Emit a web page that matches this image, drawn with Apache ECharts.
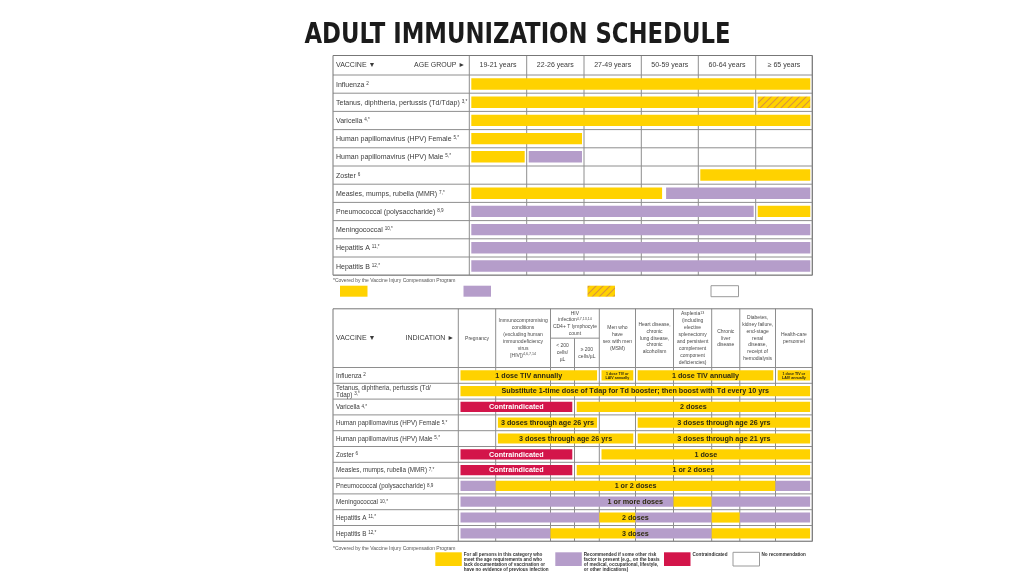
<!DOCTYPE html>
<html><head><meta charset="utf-8">
<script src="https://cdn.jsdelivr.net/npm/echarts@6/dist/echarts.min.js"></script>
<style>html,body{margin:0;padding:0;background:#fff}#c{width:1024px;height:576px}</style>
</head><body><div id="c"></div><script>
// ---------- DATA ----------
const chartTitle = 'ADULT IMMUNIZATION SCHEDULE';
const ageGroups = ['19-21 years', '22-26 years', '27-49 years', '50-59 years', '60-64 years', '≥ 65 years'];
const vaccines = ['Influenza', 'Tetanus, diphtheria, pertussis (Td/Tdap)', 'Varicella',
  'Human papillomavirus (HPV) Female', 'Human papillomavirus (HPV) Male', 'Zoster',
  'Measles, mumps, rubella (MMR)', 'Pneumococcal (polysaccharide)', 'Meningococcal',
  'Hepatitis A', 'Hepatitis B'];
const vaccineNotes = ['2', '3,*', '4,*', '5,*', '5,*', '6', '7,*', '8,9', '10,*', '11,*', '12,*'];
const indications = ['Pregnancy',
  'Immunocompromising\nconditions\n(excluding human\nimmunodeficiency\nvirus\n[HIV]){s|4,6,7,14}',
  'HIV\ninfection{s|4,7,13,14}\nCD4+ T lymphocyte\ncount',
  'Men who\nhave\nsex with men\n(MSM)',
  'Heart disease,\nchronic\nlung disease,\nchronic\nalcoholism',
  'Asplenia{s|13}\n(including\nelective\nsplenectomy\nand persistent\ncomplement\ncomponent\ndeficiencies)',
  'Chronic\nliver\ndisease',
  'Diabetes,\nkidney failure,\nend-stage\nrenal\ndisease,\nreceipt of\nhemodialysis',
  'Health-care\npersonnel'];
const indicationSpans = [1, 1, 2, 1, 1, 1, 1, 1, 1];
const hivSubgroups = ['< 200\ncells/\nµL', '≥ 200\ncells/µL'];
// [row, fromColumn, toColumn, kind]
const ageBars = [
  [0, 0, 6, 'all'],
  [1, 0, 5, 'all'], [1, 5, 6, 'hatch'],
  [2, 0, 6, 'all'],
  [3, 0, 2, 'all'],
  [4, 0, 1, 'all'], [4, 1, 2, 'risk'],
  [5, 4, 6, 'all'],
  [6, 0, 3.4, 'all'], [6, 3.4, 6, 'risk'],
  [7, 0, 5, 'risk'], [7, 5, 6, 'all'],
  [8, 0, 6, 'risk'],
  [9, 0, 6, 'risk'],
  [10, 0, 6, 'risk']
];
const indicationBars = [
  [0, 0, 4, 'all'], [0, 4, 5, 'all'], [0, 5, 9, 'all'], [0, 9, 10, 'all'],
  [1, 0, 10, 'all'],
  [2, 0, 3, 'contra'], [2, 3, 10, 'all'],
  [3, 1, 4, 'all'], [3, 5, 10, 'all'],
  [4, 1, 5, 'all'], [4, 5, 10, 'all'],
  [5, 0, 3, 'contra'], [5, 4, 10, 'all'],
  [6, 0, 3, 'contra'], [6, 3, 10, 'all'],
  [7, 0, 1, 'risk'], [7, 1, 9, 'all'], [7, 9, 10, 'risk'],
  [8, 0, 6, 'risk'], [8, 6, 7, 'all'], [8, 7, 10, 'risk'],
  [9, 0, 4, 'risk'], [9, 4, 5, 'all'], [9, 5, 7, 'risk'], [9, 7, 8, 'all'], [9, 8, 10, 'risk'],
  [10, 0, 2, 'risk'], [10, 2, 5, 'all'], [10, 5, 7, 'risk'], [10, 7, 10, 'all']
];
// [row, fromColumn, toColumn, text]
const indicationLabels = [
  [0, 0, 4, '1 dose TIV annually'], [0, 4, 5, '1 dose TIV or\nLAIV annually'],
  [0, 5, 9, '1 dose TIV annually'], [0, 9, 10, '1 dose TIV or\nLAIV annually'],
  [1, 0, 10, 'Substitute 1-time dose of Tdap for Td booster; then boost with Td every 10 yrs'],
  [2, 0, 3, 'Contraindicated'], [2, 3, 10, '2 doses'],
  [3, 1, 4, '3 doses through age 26 yrs'], [3, 5, 10, '3 doses through age 26 yrs'],
  [4, 1, 5, '3 doses through age 26 yrs'], [4, 5, 10, '3 doses through age 21 yrs'],
  [5, 0, 3, 'Contraindicated'], [5, 4, 10, '1 dose'],
  [6, 0, 3, 'Contraindicated'], [6, 3, 10, '1 or 2 doses'],
  [7, 1, 9, '1 or 2 doses'],
  [8, 0, 10, '1 or more doses'],
  [9, 0, 10, '2 doses'],
  [10, 0, 10, '3 doses']
];
const footnote = '*Covered by the Vaccine Injury Compensation Program';
const legendTopKinds = ['all', 'risk', 'hatch', 'none'];
const legendBottomKinds = ['all', 'risk', 'contra', 'none'];
const legendBottomTexts = [
  'For all persons in this category who\nmeet the age requirements and who\nlack documentation of vaccination or\nhave no evidence of previous infection',
  'Recommended if some other risk\nfactor is present (e.g., on the basis\nof medical, occupational, lifestyle,\nor other indications)',
  'Contraindicated',
  'No recommendation'];

// ---------- LAYOUT / STYLE ----------
const FONT = '"Liberation Sans", Arial, Helvetica, sans-serif';
const GRID_LINE = '#8e8e8e';
const COLORS = {all: '#FFD200', risk: '#B59DCA', contra: '#D3154A', none: '#FFFFFF'};
const TOP = {x: 333, y: 55.5, labelW: 136.3, colW: [57.4, 57.3, 57.3, 57, 57.4, 56.6],
  headerH: 19.5, rowH: 18.2, padT: 3.3, padB: 3.5, padX: 2, joinMixed: false, labelSize: 7};
const BOT = {x: 333, y: 308.8, labelW: 125.3, colW: [37.4, 54.8, 24, 24.8, 36.2, 38, 38.2, 28.1, 35.7, 36.8],
  headerH: 58.7, rowH: 15.8, padT: 2.7, padB: 2.9, padX: 2.2, joinMixed: true, labelSize: 6.3};
[TOP, BOT].forEach(T => {
  T.totalW = T.labelW + T.colW.reduce((a, b) => a + b, 0);
  T.totalH = T.headerH + vaccines.length * T.rowH;
});

function makeHatch() {
  const c = document.createElement('canvas'); c.width = 7; c.height = 7;
  const g = c.getContext('2d');
  g.fillStyle = COLORS.all; g.fillRect(0, 0, 7, 7);
  g.strokeStyle = '#D8953C'; g.lineWidth = 1.1;
  g.beginPath();
  g.moveTo(-1, 8); g.lineTo(8, -1);
  g.moveTo(-1, 1); g.lineTo(1, -1);
  g.moveTo(6, 8); g.lineTo(8, 6);
  g.stroke();
  return c;
}
const hatchCanvas = makeHatch();
function fillFor(kind) { return kind === 'hatch' ? {image: hatchCanvas, repeat: 'repeat'} : COLORS[kind]; }

function xv(T, c) {
  let x = T.labelW; const i = Math.floor(c);
  for (let k = 0; k < i && k < T.colW.length; k++) x += T.colW[k];
  if (i < T.colW.length) x += (c - i) * T.colW[i];
  return x;
}
function yv(T, r) { return T.headerH + r * T.rowH; }
function line(x1, y1, x2, y2, color) {
  return {type: 'line', shape: {x1, y1, x2, y2}, style: {stroke: color || GRID_LINE, lineWidth: 1}};
}
function txt(x, y, text, o) {
  o = o || {};
  return {type: 'text', x, y, style: Object.assign({
    text, fill: '#333', fontFamily: FONT, fontSize: 7,
    align: 'left', verticalAlign: 'middle', textAlign: 'left', textVerticalAlign: 'middle'
  }, o)};
}

function structureItem(T, isBottom) {
  return function (params, api) {
    const r = params.dataIndex;
    const P = (a, b) => api.coord([a, b]);
    const left = P(0, 0)[0], right = P(T.totalW, 0)[0];
    const top = P(0, 0)[1], bottom = P(0, T.totalH)[1];
    const y0 = P(0, yv(T, r))[1], y1 = P(0, yv(T, r + 1))[1];
    const ch = [];
    ch.push(line(left, y1, right, y1));
    let name = vaccines[r];
    if (isBottom) name = name.replace('(Td/Tdap)', '(Td/\nTdap)');
    ch.push(txt(left + 3, (y0 + y1) / 2 + 0.5, name + ' {s|' + vaccineNotes[r] + '}', {
      fontSize: T.labelSize, lineHeight: T.labelSize + 0.6, fill: '#3a3a3a',
      rich: {s: {fontSize: 4.6, fontFamily: FONT, fill: '#3a3a3a', verticalAlign: 'top', padding: [0, 0, 3, 0]}}
    }));
    if (r === 0) {
      const hb = P(0, T.headerH)[1];
      ch.push(line(left, hb, right, hb));
      const splitY = P(0, T.headerH / 2)[1];
      let spanStarts = null;
      if (isBottom) { spanStarts = new Set(); let c = 0; indicationSpans.forEach(s => { spanStarts.add(c); c += s; }); spanStarts.add(c); }
      for (let c = 0; c <= T.colW.length; c++) {
        const x = P(xv(T, c), 0)[0];
        const full = !spanStarts || spanStarts.has(c);
        ch.push(line(x, full ? top : splitY, x, bottom));
      }
      const hm = (top + hb) / 2;
      ch.push(txt(left + 3, hm, 'VACCINE ▼', {fontSize: 7, fill: '#3a3a3a'}));
      ch.push(txt(P(T.labelW, 0)[0] - 4, hm, isBottom ? 'INDICATION ►' : 'AGE GROUP ►',
        {fontSize: 7, fill: '#3a3a3a', align: 'right', textAlign: 'right'}));
      if (!isBottom) {
        ageGroups.forEach((g, i) => {
          const cx = (P(xv(T, i), 0)[0] + P(xv(T, i + 1), 0)[0]) / 2;
          ch.push(txt(cx, hm, g, {fontSize: 7, fill: '#3a3a3a', align: 'center', textAlign: 'center'}));
        });
      } else {
        const hs = {fontSize: 5, lineHeight: 6.9, fill: '#4a4a4a', align: 'center', textAlign: 'center',
          rich: {s: {fontSize: 3.6, fontFamily: FONT, fill: '#4a4a4a', verticalAlign: 'top'}}};
        let c = 0;
        indications.forEach((t, i) => {
          const s = indicationSpans[i];
          const cx = (P(xv(T, c), 0)[0] + P(xv(T, c + s), 0)[0]) / 2;
          if (s === 1) {
            ch.push(txt(cx, hm, t, hs));
          } else {
            ch.push(line(P(xv(T, c), 0)[0], splitY, P(xv(T, c + s), 0)[0], splitY));
            ch.push(txt(cx, (top + splitY) / 2, t, hs));
            hivSubgroups.forEach((g, k) => {
              const sx = (P(xv(T, c + k), 0)[0] + P(xv(T, c + k + 1), 0)[0]) / 2;
              ch.push(txt(sx, (splitY + hb) / 2, g, hs));
            });
          }
          c += s;
        });
      }
      ch.push({type: 'rect', shape: {x: left, y: top, width: right - left, height: bottom - top},
        style: {fill: null, stroke: '#777', lineWidth: 1}});
    }
    return {type: 'group', children: ch};
  };
}

function mixable(a, b) { return a !== b && a !== 'contra' && b !== 'contra'; }
function barItem(T, bars) {
  return function (params, api) {
    const row = api.value(0), from = api.value(1), to = api.value(2);
    const kind = bars[params.dataIndex][3];
    const joinL = T.joinMixed && bars.some(b => b[0] === row && b[2] === from && mixable(b[3], kind));
    const joinR = T.joinMixed && bars.some(b => b[0] === row && b[1] === to && mixable(b[3], kind));
    const p0 = api.coord([xv(T, from), yv(T, row)]);
    const p1 = api.coord([xv(T, to), yv(T, row + 1)]);
    const x0 = p0[0] + (joinL ? 0 : T.padX), x1 = p1[0] - (joinR ? 0 : T.padX);
    const y0 = p0[1] + T.padT, y1 = p1[1] - T.padB;
    return {type: 'rect', shape: {x: x0, y: y0, width: x1 - x0, height: y1 - y0},
      style: {fill: fillFor(kind)}};
  };
}
function labelItem(T, labels, bars) {
  return function (params, api) {
    const row = api.value(0), from = api.value(1), to = api.value(2);
    const text = labels[params.dataIndex][3];
    const p0 = api.coord([xv(T, from), yv(T, row)]);
    const p1 = api.coord([xv(T, to), yv(T, row + 1)]);
    const mid = (from + to) / 2;
    const under = bars.find(b => b[0] === row && b[1] <= mid && b[2] >= mid);
    const light = under && under[3] === 'contra';
    const small = (p1[0] - p0[0]) < 45;
    return txt((p0[0] + p1[0]) / 2, (p0[1] + T.padT + p1[1] - T.padB) / 2 + 0.3, text, {
      fill: light ? '#ffffff' : '#2e2a10', fontWeight: 'bold',
      fontSize: small ? 3.6 : 7.2, lineHeight: small ? 4 : 8,
      align: 'center', textAlign: 'center'
    });
  };
}

// ---------- CHART ----------
const chart = echarts.init(document.getElementById('c'), null, {renderer: 'canvas'});
const grids = [TOP, BOT].map(T => ({left: T.x, top: T.y, width: T.totalW, height: T.totalH}));
const xAxes = [TOP, BOT].map((T, i) => ({gridIndex: i, type: 'value', min: 0, max: T.totalW, show: false}));
const yAxes = [TOP, BOT].map((T, i) => ({gridIndex: i, type: 'value', min: 0, max: T.totalH, inverse: true, show: false}));

function legendBox(x, y, w, h, kind) {
  return {type: 'rect', shape: {x, y, width: w, height: h},
    style: {fill: fillFor(kind), stroke: kind === 'none' ? '#9a9a9a' : null, lineWidth: 1}};
}
const graphic = [
  {type: 'text', x: 517.5, y: 35.5, scaleY: 1.12, style: {text: chartTitle, fill: '#1b1b1b',
    font: 'bold 25.3px "DejaVu Sans Condensed", "DejaVu Sans", sans-serif',
    align: 'center', verticalAlign: 'middle', textAlign: 'center', textVerticalAlign: 'middle'}},
  {type: 'text', x: 333, y: 280.5, style: {text: footnote, fill: '#555', fontSize: 5, fontFamily: FONT,
    verticalAlign: 'middle', textVerticalAlign: 'middle'}},
  {type: 'text', x: 333, y: 548.5, style: {text: footnote, fill: '#555', fontSize: 5, fontFamily: FONT,
    verticalAlign: 'middle', textVerticalAlign: 'middle'}}
];
const topLegendX = [340, 463.5, 587.5, 711];
legendTopKinds.forEach((k, i) => graphic.push(legendBox(topLegendX[i], 285.7, 27.5, 11, k)));
const botLegendX = [435.3, 555.3, 664, 733];
legendBottomKinds.forEach((k, i) => {
  graphic.push(legendBox(botLegendX[i], 552.3, 26.5, 13.7, k));
  graphic.push({type: 'text', x: botLegendX[i] + 28.5, y: 552.3, style: {text: legendBottomTexts[i],
    fill: '#333', fontSize: 4.6, lineHeight: 5.1, fontFamily: FONT, fontWeight: 'bold',
    verticalAlign: 'top', textVerticalAlign: 'top'}});
});

chart.setOption({
  animation: false,
  backgroundColor: '#fff',
  grid: grids, xAxis: xAxes, yAxis: yAxes,
  graphic: graphic,
  series: [
    {type: 'custom', xAxisIndex: 0, yAxisIndex: 0, silent: true, renderItem: structureItem(TOP, false),
      data: vaccines.map((v, i) => [i])},
    {type: 'custom', xAxisIndex: 1, yAxisIndex: 1, silent: true, renderItem: structureItem(BOT, true),
      data: vaccines.map((v, i) => [i])},
    {type: 'custom', xAxisIndex: 0, yAxisIndex: 0, silent: true, renderItem: barItem(TOP, ageBars),
      data: ageBars.map(b => [b[0], b[1], b[2]])},
    {type: 'custom', xAxisIndex: 1, yAxisIndex: 1, silent: true, renderItem: barItem(BOT, indicationBars),
      data: indicationBars.map(b => [b[0], b[1], b[2]])},
    {type: 'custom', xAxisIndex: 1, yAxisIndex: 1, silent: true, z: 5, renderItem: labelItem(BOT, indicationLabels, indicationBars),
      data: indicationLabels.map(b => [b[0], b[1], b[2]])}
  ]
});
</script></body></html>
